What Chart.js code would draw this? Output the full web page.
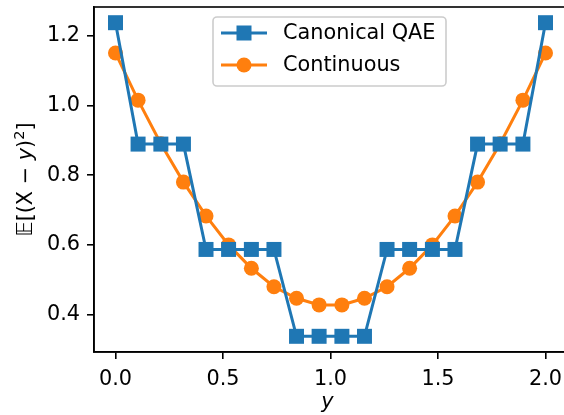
<!DOCTYPE html>
<html>
<head>
<meta charset="utf-8">
<script src="https://cdn.jsdelivr.net/npm/chart.js@4.4.1/dist/chart.umd.min.js"></script>
<style>
  html, body { margin: 0; padding: 0; background: #fff; overflow: hidden; }
  #wrap { width: 590px; height: 415px; }
</style>
</head>
<body>
<div id="wrap"><canvas id="chart" width="590" height="415"></canvas></div>
<script>
// positions along y (20 evenly spaced points from 0 to 2)
const yPositions = [0.000, 0.105, 0.211, 0.316, 0.421, 0.526, 0.632, 0.737, 0.842, 0.947,
                    1.053, 1.158, 1.263, 1.368, 1.474, 1.579, 1.684, 1.789, 1.895, 2.000];
const canonicalQAE = [1.237, 0.889, 0.889, 0.889, 0.587, 0.587, 0.587, 0.587, 0.338, 0.338,
                      0.338, 0.338, 0.587, 0.587, 0.587, 0.587, 0.889, 0.889, 0.889, 1.237];
const continuous = [1.150, 1.015, 0.890, 0.780, 0.683, 0.600, 0.533, 0.480, 0.447, 0.428,
                    0.428, 0.447, 0.480, 0.533, 0.600, 0.683, 0.780, 0.890, 1.015, 1.150];
const xTicks = [0.0, 0.5, 1.0, 1.5, 2.0];
const yTicks = [0.4, 0.6, 0.8, 1.0, 1.2];

const BLUE = '#1f77b4';
const ORANGE = '#ff7f0e';
const FONT = '"DejaVu Sans", sans-serif';
const FS = 20.8;

const toPoints = vals => vals.map((v, i) => ({ x: yPositions[i], y: v }));

// axes frame (its right side falls off the picture), axis titles and the legend box
const decorations = {
    id: 'decorations',
    afterDraw(chart) {
        const { ctx, chartArea: a } = chart;
        ctx.save();
        ctx.strokeStyle = '#000';
        ctx.lineWidth = 1.6;
        ctx.strokeRect(a.left, a.top, a.right - a.left, a.bottom - a.top);

        // x title
        ctx.fillStyle = '#000';
        ctx.font = 'italic ' + FS + 'px ' + FONT;
        ctx.textAlign = 'center';
        ctx.textBaseline = 'alphabetic';
        ctx.fillText('y', (a.left + a.right) / 2 - 3, 408);

        // y title: E[(X - y)^2]
        const parts = [
            { t: '\u{1D53C}', f: FS + 'px ' + FONT, dy: 0 },
            { t: '[(X \u2212 ', f: FS + 'px ' + FONT, dy: 0 },
            { t: 'y', f: 'italic ' + FS + 'px ' + FONT, dy: 0 },
            { t: ')', f: FS + 'px ' + FONT, dy: 0 },
            { t: '2', f: '14.5px ' + FONT, dy: -8 },
            { t: ']', f: FS + 'px ' + FONT, dy: 0 }
        ];
        let total = 0;
        parts.forEach(p => { ctx.font = p.f; p.w = ctx.measureText(p.t).width; total += p.w; });
        ctx.translate(32, (a.top + a.bottom) / 2);
        ctx.rotate(-Math.PI / 2);
        ctx.textAlign = 'left';
        let x = -total / 2;
        parts.forEach(p => { ctx.font = p.f; ctx.fillText(p.t, x, p.dy); x += p.w; });
        ctx.restore();

        // legend
        ctx.save();
        const bx = 213, by = 17, bw = 233, bh = 69;
        ctx.beginPath();
        ctx.roundRect(bx, by, bw, bh, 4);
        ctx.fillStyle = 'rgba(255,255,255,0.8)';
        ctx.fill();
        ctx.strokeStyle = '#cccccc';
        ctx.lineWidth = 1.6;
        ctx.stroke();
        chart.data.datasets.forEach((ds, i) => {
            const cy = 33 + i * 32;
            ctx.strokeStyle = ds.borderColor;
            ctx.lineWidth = 3;
            ctx.beginPath();
            ctx.moveTo(221, cy);
            ctx.lineTo(267, cy);
            ctx.stroke();
            ctx.fillStyle = ds.borderColor;
            if (ds.pointStyle === 'rect') {
                ctx.fillRect(244 - 7.5, cy - 7.5, 15, 15);
            } else {
                ctx.beginPath();
                ctx.arc(244, cy, 7.5, 0, Math.PI * 2);
                ctx.fill();
            }
            ctx.fillStyle = '#000';
            ctx.font = FS + 'px ' + FONT;
            ctx.textBaseline = 'middle';
            ctx.textAlign = 'left';
            ctx.fillText(ds.label, 283, cy + 1);
        });
        ctx.restore();
    }
};

new Chart(document.getElementById('chart'), {
    type: 'line',
    data: {
        datasets: [
            {
                label: 'Canonical QAE',
                data: toPoints(canonicalQAE),
                borderColor: BLUE,
                backgroundColor: BLUE,
                borderWidth: 3,
                pointStyle: 'rect',
                pointRadius: 10.6,
                pointBorderWidth: 0,
                tension: 0
            },
            {
                label: 'Continuous',
                data: toPoints(continuous),
                borderColor: ORANGE,
                backgroundColor: ORANGE,
                borderWidth: 3,
                pointStyle: 'circle',
                pointRadius: 7.5,
                pointBorderWidth: 0,
                tension: 0
            }
        ]
    },
    options: {
        responsive: false,
        animation: false,
        devicePixelRatio: 1,
        layout: { autoPadding: false, padding: { top: 7, right: 23, left: 0, bottom: 0 } },
        plugins: {
            legend: { display: false },
            tooltip: { enabled: false }
        },
        scales: {
            x: {
                type: 'linear',
                min: -0.1,
                max: 2.1,
                afterBuildTicks: s => { s.ticks = xTicks.map(v => ({ value: v })); },
                afterFit: s => { s.height = 63; s.paddingLeft = 0; s.paddingRight = 0; },
                grid: { drawOnChartArea: false, drawTicks: true, tickLength: 7, color: '#000', lineWidth: 1.6 },
                border: { display: true, color: '#000', width: 1.6 },
                ticks: {
                    color: '#000',
                    font: { family: FONT, size: FS },
                    padding: 8,
                    maxRotation: 0,
                    callback: v => v.toFixed(1)
                }
            },
            y: {
                min: 0.293,
                max: 1.282,
                afterBuildTicks: s => { s.ticks = yTicks.map(v => ({ value: v })); },
                afterFit: s => { s.width = 94; s.paddingTop = 0; s.paddingBottom = 0; },
                grid: { drawOnChartArea: false, drawTicks: true, tickLength: 7, color: '#000', lineWidth: 1.6 },
                border: { display: true, color: '#000', width: 1.6 },
                ticks: {
                    color: '#000',
                    font: { family: FONT, size: FS, lineHeight: 0.5 },
                    padding: 7,
                    callback: v => v.toFixed(1)
                }
            }
        }
    },
    plugins: [decorations]
});
</script>
</body>
</html>
